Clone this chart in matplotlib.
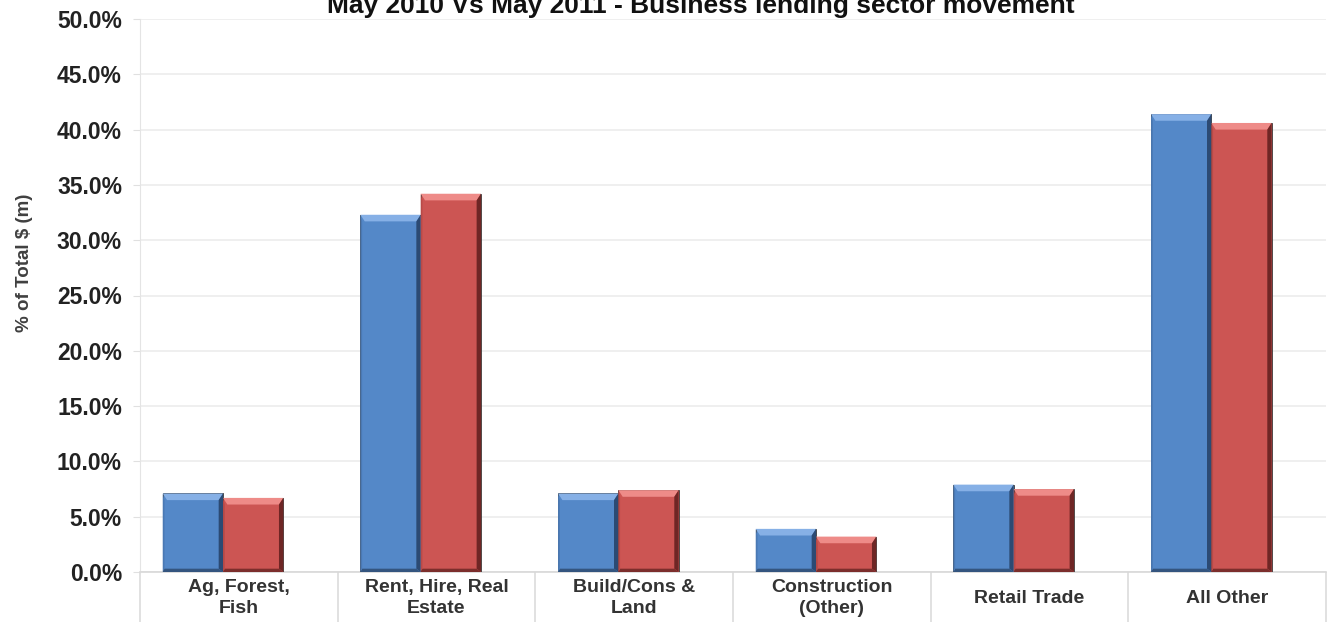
import matplotlib.pyplot as plt
from matplotlib.patches import Polygon
from matplotlib.ticker import FixedLocator, PercentFormatter
import numpy as np

plt.rcParams['font.family'] = ['Liberation Sans', 'DejaVu Sans']

# Share of total business lending by sector
sectors = ["Ag, Forest,\nFish", "Rent, Hire, Real\nEstate", "Build/Cons &\nLand",
           "Construction\n(Other)", "Retail Trade", "All Other"]
may_2010 = [7.1, 32.3, 7.1, 3.9, 7.9, 41.4]
may_2011 = [6.7, 34.2, 7.4, 3.2, 7.5, 40.6]

title = "May 2010 Vs May 2011 - Business lending sector movement"
ylabel = "% of Total $ (m)"

blue = dict(face="#5488c8", top="#86b0e6", right="#2c4a73", bottom="#34557f", left="#4a79b4")
red = dict(face="#cc5553", top="#ee8b88", right="#6e2625", bottom="#7c2e2c", left="#b84a48")

bar_w = 0.305
shift = -0.08      # bars sit a little left of the category centre
bev_x = 0.022      # bevel width in category units
bev_y = 0.6        # bevel height in percentage points


def bevel_bar(ax, left, width, height, col):
    right = left + width
    ax.bar(left, height, width, align="edge", color=col["face"],
           edgecolor="#3a3a3a", linewidth=0.6, zorder=3)
    inner_t = height - bev_y
    shapes = [
        ([(left, height), (right, height), (right - bev_x, inner_t), (left + bev_x, inner_t)], col["top"]),
        ([(right, height), (right, 0), (right - bev_x, bev_y * 0.5), (right - bev_x, inner_t)], col["right"]),
        ([(left, 0), (right, 0), (right - bev_x, bev_y * 0.5), (left + bev_x * 0.4, bev_y * 0.5)], col["bottom"]),
        ([(left, height), (left, 0), (left + bev_x * 0.4, bev_y * 0.5), (left + bev_x * 0.4, inner_t)], col["left"]),
    ]
    for pts, c in shapes:
        ax.add_patch(Polygon(pts, closed=True, facecolor=c, edgecolor="none", zorder=4))


fig = plt.figure(figsize=(13.27, 6.22), dpi=100)
ax = fig.add_axes([140 / 1327, 1 - 572 / 622, 1186 / 1327, 553 / 622])

x = np.arange(len(sectors))
for i in range(len(sectors)):
    bevel_bar(ax, x[i] + shift - bar_w, bar_w, may_2010[i], blue)
    bevel_bar(ax, x[i] + shift, bar_w, may_2011[i], red)

ax.set_xlim(-0.5, len(sectors) - 0.5)
ax.set_ylim(0, 50)

ax.yaxis.set_major_locator(FixedLocator(np.arange(0, 50.1, 5)))
ax.yaxis.set_major_formatter(PercentFormatter(decimals=1))
ax.grid(axis="y", color="#ececec", linewidth=1.2, zorder=0)
ax.tick_params(axis="y", length=5, color="#e0e0e0", pad=8, labelsize=16.5,
               labelcolor="#222222")
for lab in ax.get_yticklabels():
    lab.set_fontweight("bold")

# category labels in the middle of each slot, divider lines between slots
ax.set_xticks(x)
ax.set_xticklabels(sectors, fontsize=14, fontweight="bold", color="#333333",
                   linespacing=1.3)
for lab in ax.get_xticklabels():
    lab.set_verticalalignment("center")
ax.tick_params(axis="x", which="major", length=0, pad=19)
ax.set_xticks(np.arange(-0.5, len(sectors), 1), minor=True)
ax.tick_params(axis="x", which="minor", length=38, width=1.2, color="#dcdcdc")

for side in ("top", "right"):
    ax.spines[side].set_visible(False)
ax.spines["left"].set_color("#e4e4e4")
ax.spines["bottom"].set_color("#d8d8d8")
ax.spines["bottom"].set_linewidth(1.2)

ax.set_ylabel(ylabel, fontsize=13.5, fontweight="bold", color="#404040")
ax.yaxis.set_label_coords(-0.09, 0.56)

fig.text(701 / 1327, 1 - 13 / 622, title, ha="center", va="baseline",
         fontsize=19, fontweight="bold", color="#111111")

fig.savefig("out.png", dpi=100)
